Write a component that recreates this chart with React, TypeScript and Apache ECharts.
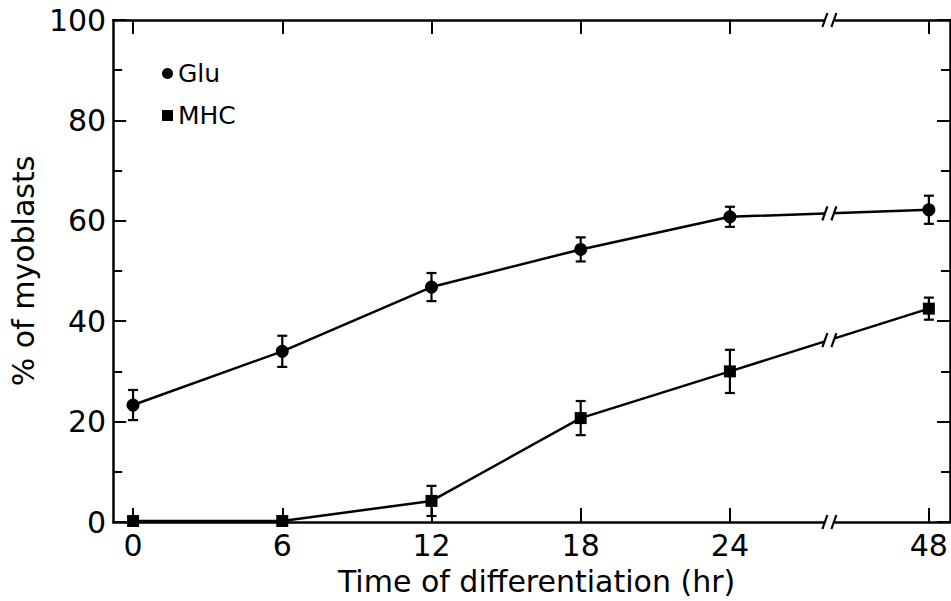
import React, { useEffect, useRef } from 'react';
import * as echarts from 'echarts';

// ---- data ----
const hours = [0, 6, 12, 18, 24, 48];
const xTickLabels = ['0', '6', '12', '18', '24', '48'];
const gluValues = [23.3, 34.0, 46.8, 54.3, 60.8, 62.2];
const gluErrors = [3.0, 3.1, 2.8, 2.4, 2.0, 2.8];
const mhcValues = [0.2, 0.2, 4.2, 20.7, 30.0, 42.5];
const mhcErrors = [0, 0, 3.0, 3.4, 4.3, 2.2];
const seriesNames = ['Glu', 'MHC'];

// ---- broken time scale: hours after the break are compressed ----
const BREAK_START = 24;
const COMPRESS = 3;
const BREAK_AT_HOUR = 36;
const toAxis = (h: number) => (h <= BREAK_START ? h : BREAK_START + (h - BREAK_START) / COMPRESS);

const FONT = 'DejaVu Sans';

const interpAtBreak = (vals: number[]) => {
  const x0 = toAxis(hours[4]);
  const x1 = toAxis(hours[5]);
  const xb = toAxis(BREAK_AT_HOUR);
  return vals[4] + ((vals[5] - vals[4]) * (xb - x0)) / (x1 - x0);
};

export default function App() {
  const ref = useRef<HTMLDivElement>(null);
  useEffect(() => {
    if (!ref.current) return;
    const chart = echarts.init(ref.current, undefined, { renderer: 'svg' });
    const tickVals = hours.map(toAxis);
    const black = '#000';
    const LW = 2.5;

    const errRender = (params: any, api: any) => {
      const x = api.value(0);
      const y = api.value(1);
      const e = api.value(2);
      if (!e) return { type: 'group', children: [] };
      const top = api.coord([x, y + e]);
      const bot = api.coord([x, y - e]);
      const hw = 5;
      const st = { stroke: black, lineWidth: 2.2 };
      return {
        type: 'group',
        children: [
          { type: 'line', shape: { x1: top[0], y1: top[1], x2: bot[0], y2: bot[1] }, style: st },
          { type: 'line', shape: { x1: top[0] - hw, y1: top[1], x2: top[0] + hw, y2: top[1] }, style: st },
          { type: 'line', shape: { x1: bot[0] - hw, y1: bot[1], x2: bot[0] + hw, y2: bot[1] }, style: st },
        ],
      };
    };

    const breakRender = (params: any, api: any) => {
      const c = api.coord([api.value(0), api.value(1)]);
      const st = { stroke: black, lineWidth: 2.2 };
      return {
        type: 'group',
        children: [
          { type: 'rect', shape: { x: c[0] - 5, y: c[1] - 4, width: 10, height: 8 }, style: { fill: '#fff' } },
          { type: 'line', shape: { x1: c[0] - 7, y1: c[1] + 7, x2: c[0] - 2, y2: c[1] - 7 }, style: st },
          { type: 'line', shape: { x1: c[0] + 2, y1: c[1] + 7, x2: c[0] + 7, y2: c[1] - 7 }, style: st },
        ],
      };
    };

    const xb = toAxis(BREAK_AT_HOUR);
    const breakData = [
      [xb, 0],
      [xb, 100],
      [xb, interpAtBreak(gluValues)],
      [xb, interpAtBreak(mhcValues)],
    ];

    const xCommon = {
      type: 'value',
      min: -0.8,
      max: 32.85,
      splitLine: { show: false },
      axisLine: { show: true, onZero: false, lineStyle: { color: black, width: LW } },
      axisTick: { show: true, inside: true, length: 14, customValues: tickVals, lineStyle: { color: black, width: 2 } },
    };
    const yCommon = {
      type: 'value',
      min: 0,
      max: 100,
      interval: 20,
      splitLine: { show: false },
      axisLine: { show: true, onZero: false, lineStyle: { color: black, width: LW } },
      axisTick: { show: true, inside: true, length: 13, lineStyle: { color: black, width: 2 } },
      minorTick: { show: true, splitNumber: 2, length: 9, lineStyle: { color: black, width: 2 } },
      minorSplitLine: { show: false },
    };

    chart.setOption({
      animation: false,
      backgroundColor: '#fff',
      grid: { left: 110, right: 1, top: 20, bottom: 79, containLabel: false },
      legend: {
        orient: 'vertical',
        left: 157,
        top: 56,
        itemWidth: 11,
        itemHeight: 11,
        itemGap: 17,
        textStyle: { fontSize: 25, color: black, fontFamily: FONT },
        data: [
          { name: seriesNames[0], icon: 'circle' },
          { name: seriesNames[1], icon: 'rect' },
        ],
      },
      xAxis: [
        {
          ...xCommon,
          position: 'bottom',
          name: 'Time of differentiation (hr)',
          nameLocation: 'middle',
          nameGap: 44,
          nameTextStyle: { fontSize: 30, color: black, fontFamily: FONT, padding: [0, 0, 0, 10] },
          axisLabel: {
            show: true,
            customValues: tickVals,
            margin: 8,
            fontSize: 30,
            color: black,
            fontFamily: FONT,
            formatter: (v: number) => {
              const i = tickVals.findIndex((t) => Math.abs(t - v) < 1e-6);
              return i >= 0 ? xTickLabels[i] : '';
            },
          },
        },
        {
          ...xCommon,
          position: 'top',
          axisLabel: { show: false },
        },
      ],
      yAxis: [
        {
          ...yCommon,
          position: 'left',
          name: '% of myoblasts',
          nameLocation: 'middle',
          nameGap: 74,
          nameTextStyle: { fontSize: 30, color: black, fontFamily: FONT },
          axisLabel: { show: true, margin: 7, fontSize: 30, color: black, fontFamily: FONT },
        },
        {
          ...yCommon,
          position: 'right',
          axisLabel: { show: false },
        },
      ],
      series: [
        {
          name: seriesNames[0],
          type: 'line',
          xAxisIndex: 0,
          yAxisIndex: 0,
          data: hours.map((h, i) => [toAxis(h), gluValues[i]]),
          symbol: 'circle',
          symbolSize: 13,
          lineStyle: { color: black, width: LW },
          itemStyle: { color: black },
          z: 3,
        },
        {
          name: seriesNames[1],
          type: 'line',
          xAxisIndex: 0,
          yAxisIndex: 0,
          data: hours.map((h, i) => [toAxis(h), mhcValues[i]]),
          symbol: 'rect',
          symbolSize: 12,
          lineStyle: { color: black, width: LW },
          itemStyle: { color: black },
          z: 3,
        },
        {
          name: 'Glu error',
          type: 'custom',
          xAxisIndex: 0,
          yAxisIndex: 0,
          renderItem: errRender,
          data: hours.map((h, i) => [toAxis(h), gluValues[i], gluErrors[i]]),
          encode: { x: 0, y: 1 },
          z: 4,
        },
        {
          name: 'MHC error',
          type: 'custom',
          xAxisIndex: 0,
          yAxisIndex: 0,
          renderItem: errRender,
          data: hours.map((h, i) => [toAxis(h), mhcValues[i], mhcErrors[i]]),
          encode: { x: 0, y: 1 },
          z: 4,
        },
        {
          name: 'breaks',
          type: 'custom',
          xAxisIndex: 0,
          yAxisIndex: 0,
          renderItem: breakRender,
          data: breakData,
          encode: { x: 0, y: 1 },
          clip: false,
          z: 10,
        },
      ],
    });
    return () => chart.dispose();
  }, []);
  return (
    <div
      ref={ref}
      style={{ position: 'fixed', left: 0, top: 0, width: 951, height: 601, background: '#fff' }}
    />
  );
}
